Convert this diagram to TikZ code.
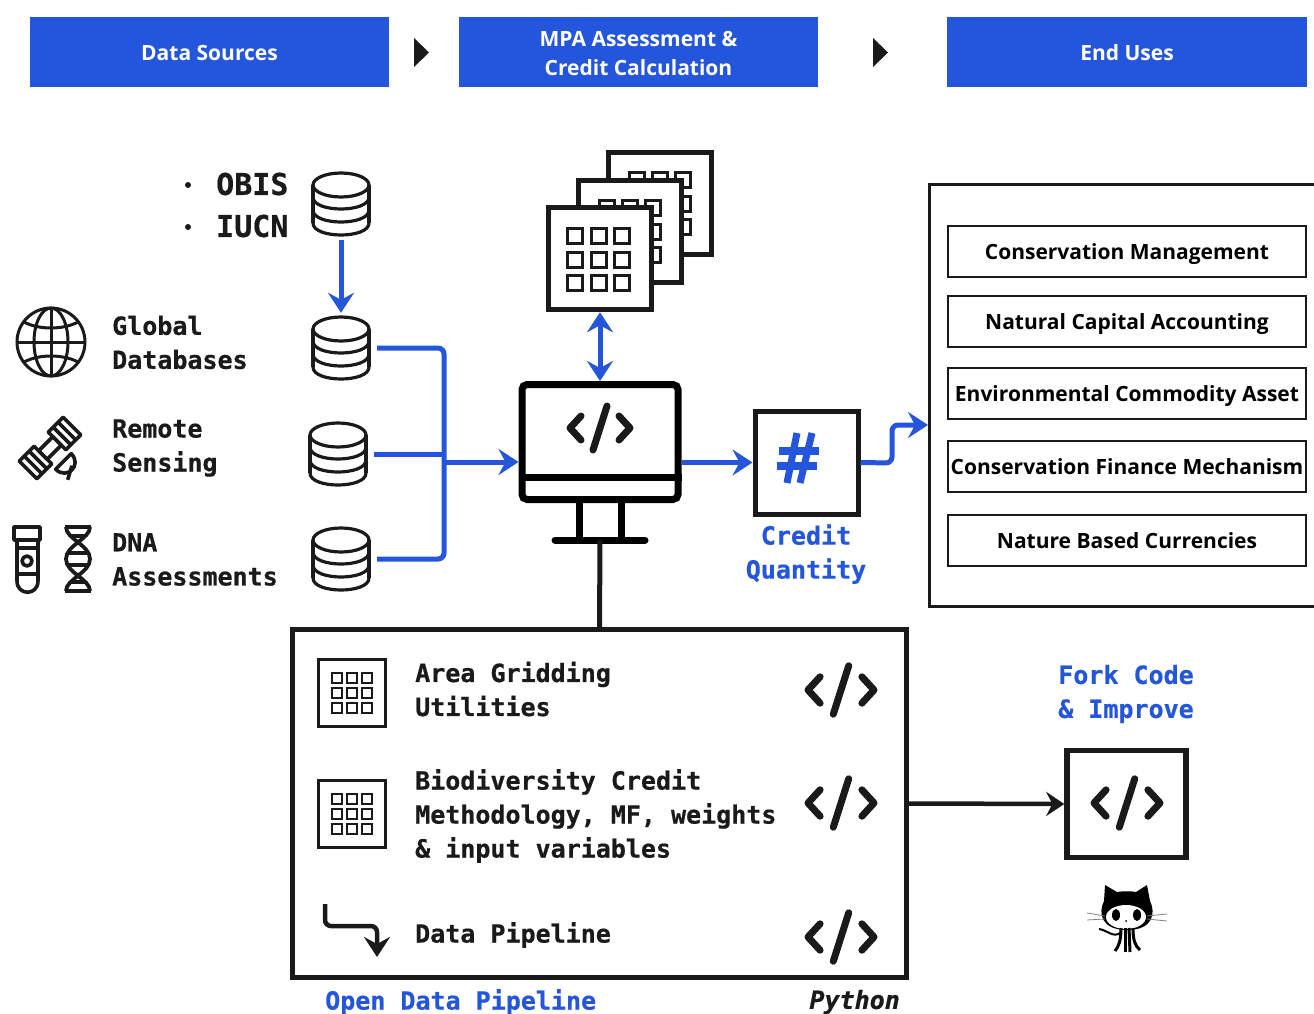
\documentclass[tikz,border=0pt]{standalone}
\usepackage{fontspec}
\setmainfont{Open Sans}
\setmonofont[BoldFont={DejaVu Sans Mono Bold},BoldItalicFont={DejaVu Sans Mono Bold Oblique},BoldFeatures={FakeBold=0.6},BoldItalicFeatures={FakeBold=0.6}]{DejaVu Sans Mono}
\usetikzlibrary{arrows.meta}
\definecolor{flowblue}{HTML}{2456DC}
\definecolor{inkblack}{HTML}{1A1A1A}

\begin{document}
\begin{tikzpicture}[x=1pt,y=-1pt]
    \tikzset{header/.style = {fill=flowblue, text=white, minimum width=359pt, minimum height=70pt, inner sep=0pt, align=center, font=\fontsize{21}{29}\selectfont\bfseries}}
    \tikzset{enduse/.style = {draw=inkblack, line width=2.8pt, minimum width=358pt, minimum height=51pt, inner sep=0pt, text height=16pt, text depth=0pt, font=\fontsize{21}{25}\selectfont\bfseries}}
    \tikzset{monolabel/.style = {anchor=west, inner sep=0pt, align=left, text=inkblack, font=\fontsize{25}{34}\selectfont\ttfamily\bfseries}}
    \tikzset{bluelabel/.style = {monolabel, anchor=center, text=flowblue}}
    \tikzset{slot/.style = {minimum width=72pt, minimum height=70pt, inner sep=0pt}}
    \tikzset{page/.style = {draw=inkblack, fill=white, line width=5.5pt, minimum width=103pt, minimum height=102pt, inner sep=0pt}}
    \tikzset{flow/.style = {draw=flowblue, line width=5pt, -{Stealth[length=20pt,width=26pt,inset=7pt]}}}
    \tikzset{busline/.style = {draw=flowblue, line width=5pt, rounded corners=6pt}}
    \tikzset{database/.pic = {
        \draw[inkblack, line width=3.2pt] (0,-19) ellipse [x radius=28, y radius=12];
        \draw[inkblack, line width=3.2pt] (-28,-19) -- (-28,19) (28,-19) -- (28,19);
        \foreach \y in {-7,6,19}
            \draw[inkblack, line width=3.2pt] (-28,\y) .. controls (-28,\y+16) and (28,\y+16) .. (28,\y);
    }}
    \tikzset{codemark/.pic = {
        \draw[inkblack, line width=7pt, line cap=round, line join=round] (-19,-12) -- (-30,0) -- (-19,12);
        \draw[inkblack, line width=7pt, line cap=round, line join=round] (19,-12) -- (30,0) -- (19,12);
        \draw[inkblack, line width=7pt, line cap=round] (-7,22) -- (7,-22);
    }}
    \tikzset{cells/.pic = {
        \foreach \i in {-1,0,1}
            \foreach \j in {-1,0,1}
                \draw[inkblack] (\i*23.3-7.5,\j*23.3-7.5) rectangle ++(15,15);
    }}
    \useasboundingbox (0,0) rectangle (1314,1014);

    % header
    \node[header, text height=18pt, text depth=0pt] (sources) at (209.5,52) {Data Sources};
    \node[header] (assess) at (638.5,52) {\rule{0pt}{19pt}MPA Assessment \&\\Credit Calculation};
    \node[header, text height=18pt, text depth=0pt, minimum width=360pt] (uses) at (1127,52) {End Uses};
    \fill[inkblack] (414,38) -- (429,52.5) -- (414,67) -- cycle;
    \fill[inkblack] (873,38) -- (888,52.5) -- (873,67) -- cycle;

    % data sources
    \fill[inkblack] (188,185) circle (3pt) (188,227) circle (3pt);
    \node[monolabel, font=\fontsize{30}{42}\selectfont\ttfamily\bfseries] (obis) at (216,205) {OBIS\\IUCN};
    \node[monolabel] (global) at (112,342.5) {Global\\Databases};
    \node[monolabel] (remote) at (112,448) {Remote\\Sensing};
    \node[monolabel] (dna) at (112,559.5) {DNA\\Assessments};
    \node[slot] (db1) at (341,204) {};
    \node[slot] (db2) at (341,348) {};
    \node[slot] (db3) at (338,454) {};
    \node[slot] (db4) at (341,559) {};
    \pic at (db1) {database};
    \pic at (db2) {database};
    \pic at (db3) {database};
    \pic at (db4) {database};

    % globe
    \begin{scope}[shift={(51,342)}, inkblack, line width=3pt]
        \draw (0,0) circle (34);
        \draw (0,0) ellipse [x radius=17, y radius=34];
        \draw (0,-34) -- (0,34) (-34,0) -- (34,0);
        \draw (-27,-20) .. controls (-12,-12) and (12,-12) .. (27,-20);
        \draw (-27,20) .. controls (-12,12) and (12,12) .. (27,20);
    \end{scope}

    % satellite
    \begin{scope}[shift={(50,448)}, rotate=45, inkblack, line width=3.6pt, line join=round]
        \draw (10,-12.5) rectangle (31,12.5);
        \draw (-31,-12.5) rectangle (-10,12.5);
        \draw (-10,-6) rectangle (10,6);
        \draw (17,-12.5) -- (17,12.5) (24,-12.5) -- (24,12.5);
        \draw (-17,-12.5) -- (-17,12.5) (-24,-12.5) -- (-24,12.5);
        \draw (-11,19) .. controls (-11,35) and (11,35) .. (11,19) -- cycle;
        \draw (3,28) -- (-10,35);
    \end{scope}

    % tube and helix
    \begin{scope}[inkblack, line width=3.6pt, line join=round]
        \draw (14,527) rectangle (40,540);
        \draw (17,540) -- (17,581) .. controls (17,596) and (38,596) .. (38,581) -- (38,540);
        \draw (17,548) -- (38,548) (17,574) -- (38,574);
        \draw (27,561) circle (5);
    \end{scope}
    \begin{scope}[shift={(78,559)}, inkblack, line width=3.8pt]
        \draw (-12,-32) .. controls (-12,-20) and (12,-14) .. (12,0) .. controls (12,14) and (-12,20) .. (-12,32);
        \draw (12,-32) .. controls (12,-20) and (-12,-14) .. (-12,0) .. controls (-12,14) and (12,20) .. (12,32);
        \draw (-13,-32) -- (13,-32) (-13,32) -- (13,32);
        \draw (-8,-23) -- (8,-23) (-10,-6) -- (10,-6) (-10,6) -- (10,6) (-8,23) -- (8,23);
    \end{scope}

    % monitor
    \node[draw=black, line width=7pt, rounded corners=5pt, minimum width=156pt, minimum height=115pt, inner sep=0pt] (monitor) at (600,442) {};
    \draw[black, line width=7pt] (monitor.west |- 0,477) -- (monitor.east |- 0,477);
    \draw[black, line width=7pt] (579,503) -- (579,540) (621,503) -- (621,540);
    \draw[black, line width=7pt, line cap=round] (555,540) -- (645,540);
    \coordinate (stand) at (600,540);
    \pic at (600,428) {codemark};

    % pages
    \node[page] (page3) at (660,203.5) {};
    \pic[line width=3pt] at (660,203.5) {cells};
    \node[page] (page2) at (630,231.5) {};
    \pic[line width=3pt] at (630,231.5) {cells};
    \node[page] (page1) at (600,258.5) {};
    \pic[line width=3pt] at (598.5,259.5) {cells};

    % credit
    \node[draw=inkblack, line width=5pt, minimum width=103pt, minimum height=103pt, inner sep=0pt] (credit) at (806.5,462.5) {};
    \begin{scope}[shift={(806,462)}, flowblue]
        \draw[line width=7pt] (-9,-29) -- (-19,21) (6,-29) -- (-6,21);
        \draw[line width=8pt] (-27,-11) -- (13,-11);
        \draw[line width=8pt] (-29,4) -- (11,4);
    \end{scope}
    \node[bluelabel, align=center] (quantity) at (806,554) {Credit\\Quantity};

    % end uses
    \draw[inkblack, line width=3pt] (1314,184.5) -- (929.5,184.5) -- (929.5,606) -- (1314,606);
    \coordinate (endbox) at (928,425);
    \node[enduse] (manage) at (1127,251.5) {Conservation Management};
    \node[enduse] (capital) at (1127,321.5) {Natural Capital Accounting};
    \node[enduse] (commodity) at (1127,393.5) {Environmental Commodity Asset};
    \node[enduse] (finance) at (1127,466.5) {Conservation Finance Mechanism};
    \node[enduse] (currency) at (1127,540.5) {Nature Based Currencies};

    % pipeline
    \node[draw=inkblack, line width=5pt, minimum width=614pt, minimum height=348pt, inner sep=0pt] (pipeline) at (599.5,803.5) {};
    \node[draw=inkblack, line width=3pt, minimum width=67pt, minimum height=67pt, inner sep=0pt] (gridbox1) at (352,693) {};
    \node[draw=inkblack, line width=3pt, minimum width=67pt, minimum height=67pt, inner sep=0pt] (gridbox2) at (352,814) {};
    \pic[scale=0.64, line width=2.4pt] at (gridbox1) {cells};
    \pic[scale=0.64, line width=2.4pt] at (gridbox2) {cells};
    \node[monolabel] (gridding) at (415,689) {Area Gridding\\Utilities};
    \node[monolabel] (method) at (415,816) {Biodiversity Credit\\Methodology, MF, weights\\\& input variables};
    \node[monolabel] (datapipe) at (415,935) {Data Pipeline};
    \pic[scale=1.1] at (841,690) {codemark};
    \pic[scale=1.1] at (841,803) {codemark};
    \pic[scale=1.1] at (841,937) {codemark};
    \draw[inkblack, line width=4.5pt, rounded corners=6pt, -{Stealth[length=20pt,width=26pt,inset=7pt]}] (325,904) -- (325,926) -- (377,926) -- (377,957);
    \node[bluelabel, anchor=west] (open) at (325,1002) {Open Data Pipeline};
    \node[monolabel, anchor=east, font=\fontsize{25}{34}\selectfont\ttfamily\bfseries\itshape] (python) at (900,1002) {Python};

    % fork
    \node[bluelabel] (forklabel) at (1126,694) {Fork Code\\\& Improve};
    \node[draw=inkblack, line width=5.5pt, minimum width=119pt, minimum height=107pt, inner sep=0pt] (fork) at (1126.5,804) {};
    \pic[scale=1.1] at (1127,803) {codemark};

    % octocat
    \begin{scope}[shift={(1127,918)}]
        \fill[black] (-22,-33) -- (-10,-26) .. controls (-4,-27) and (4,-27) .. (9,-26) -- (20,-33) -- (23,-17) .. controls (29,-5) and (26,12) .. (0,12) .. controls (-26,12) and (-29,-5) .. (-23,-17) -- cycle;
        \fill[white] (-1,-1) ellipse [x radius=20, y radius=12];
        \fill[black] (-11,-3) ellipse [x radius=4, y radius=6];
        \fill[black] (10,-3) ellipse [x radius=4, y radius=6];
        \fill[black] (-1,3) circle (1);
        \draw[black, line width=3pt] (-6,10) .. controls (-6,22) and (-8,28) .. (-12,33);
        \draw[black, line width=3pt] (-2,10) -- (-2,34);
        \draw[black, line width=3pt] (2,10) -- (3,34);
        \draw[black, line width=3pt] (6,10) .. controls (6,22) and (8,28) .. (13,32);
        \draw[black, line width=2pt] (-7,15) .. controls (-14,20) and (-20,12) .. (-28,11);
        \draw[gray, line width=0.8pt] (-22,-2) -- (-40,-5) (-22,1) -- (-40,2) (20,-2) -- (40,-4) (20,1) -- (40,3);
    \end{scope}

    % connectors
    \coordinate (bustop) at (444,348);
    \coordinate (busbot) at (444,559);
    \coordinate (busmid) at (444,454);
    \coordinate (bus) at (444,462);
    \coordinate (turn1) at (892,463);
    \coordinate (turn2) at (892,425);
    \draw[flow] (db1) ++(0,36) -- (db2.north);
    \draw[busline] (db2.east) -- (bustop) -- (busbot) -- (db4.east);
    \draw[busline] (db3.east) -- (busmid);
    \draw[flow] (bus) -- (bus -| monitor.west);
    \draw[flow] (monitor.east |- credit) -- (credit.west);
    \draw[flow, rounded corners=6pt] (credit.east) -- (turn1) -- (turn2) -- (endbox);
    \draw[flow, {Stealth[length=20pt,width=26pt,inset=7pt]}-{Stealth[length=20pt,width=26pt,inset=7pt]}] (page1.south) -- (monitor.north);
    \draw[inkblack, line width=5pt] (stand) -- (pipeline.north);
    \draw[inkblack, line width=4.5pt, -{Stealth[length=18pt,width=24pt,inset=6pt]}] (pipeline.east) -- (fork.west);
\end{tikzpicture}
\end{document}
